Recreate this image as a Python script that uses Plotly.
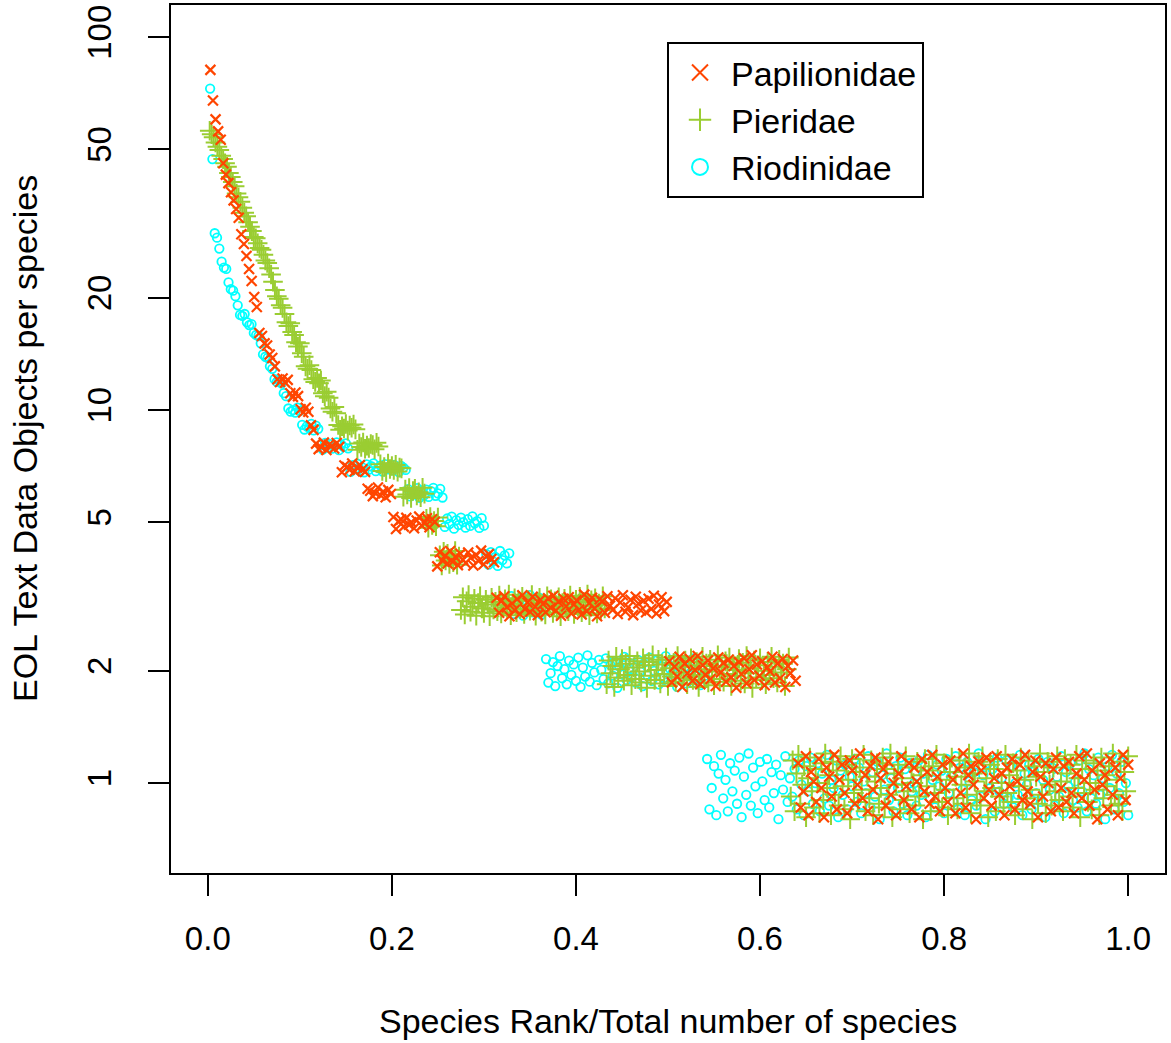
import plotly.graph_objects as go

# Jittered "EOL text data objects per species", species in descending rank order
families = ["Papilionidae", "Pieridae", "Riodinidae"]

pap_y = [
    81.7, 67.6, 60.2, 55.9, 53.1, 45.9, 42.8, 40.6, 38.4, 36.5, 34.6, 32.8, 29.6, 27.9, 25.9, 23.9, 22.2, 20.1, 18.9,
    16.1, 15.8, 15.1, 14.9,
    14.1, 13.8, 13.1,
    12.1, 11.9, 12.15, 11.85, 12.05,
    11.1, 10.85, 11.15, 10.9,
    10.05, 9.85, 10.15, 9.9,
    9.1, 8.85,
    8.13, 7.86, 7.95, 8.18, 7.82, 8.07, 8.01, 7.89, 8.16, 7.97,
    6.81, 7.10, 7.04, 6.92, 7.19, 6.85, 7.02, 7.12, 6.94, 6.83,
    6.15, 6.08, 5.88, 5.99, 6.20, 5.91, 6.05, 5.84, 6.11, 5.96,
    5.17, 4.80, 5.03, 5.09, 4.87, 5.14, 4.93, 5.00, 4.82, 5.06, 5.18, 4.90, 4.98, 5.13, 4.85, 5.10, 5.01,
    3.81, 4.16, 3.95, 4.07, 3.88, 4.19, 3.92, 4.04, 3.84, 4.12, 3.97, 3.89, 4.15, 4.02, 3.83, 4.09, 3.94, 4.20, 3.86, 4.05,
    4.11, 3.99, 3.91,
    3.14, 2.86, 3.08, 3.17, 2.96, 2.80, 3.03, 2.91, 3.11, 2.84, 3.19, 2.93, 3.05, 2.88, 3.16, 2.97, 2.82, 3.10, 3.02, 2.87,
    3.13, 2.95, 3.18, 2.90, 3.06, 2.81, 3.12, 2.98, 3.15, 2.85, 3.01, 3.09, 2.92, 2.83, 3.20, 2.89, 3.04, 3.14, 2.94, 2.80,
    3.11, 3.07, 2.86, 3.17, 2.99, 2.91, 3.13, 2.84, 3.05, 3.19, 2.88, 2.96, 3.10, 2.82, 3.16, 3.03, 2.90, 3.08, 2.87, 3.12,
    2.93, 3.18, 2.85, 3.01, 3.15, 2.89, 3.06,
    2.12, 1.86, 2.05, 1.93, 2.18, 1.81, 2.09, 1.97, 2.15, 1.88, 2.01, 2.19, 1.84, 2.07, 1.95, 2.13, 1.90, 2.03, 1.82, 2.17,
    1.98, 2.10, 1.87, 2.14, 1.92, 2.06, 1.80, 2.11, 1.96, 2.16, 1.85, 2.02, 2.20, 1.89, 2.08, 1.94, 2.12, 1.83, 2.04, 1.99,
    2.18, 1.86, 2.09, 1.91, 2.15, 1.81, 2.06, 1.97, 2.13, 1.88,
    1.13, 0.86, 0.95, 1.18, 0.82, 1.07, 1.01, 0.89, 1.16, 0.97, 0.81, 1.10, 1.04, 0.92, 1.19, 0.85, 1.02, 1.12, 0.94, 0.83,
    1.15, 1.08, 0.88, 0.99, 1.20, 0.91, 1.05, 0.84, 1.11, 0.96, 1.17, 0.80, 1.03, 1.09, 0.87, 1.14, 0.93, 1.00, 0.82, 1.06,
    1.18, 0.90, 0.98, 1.13, 0.85, 1.10, 1.01, 0.81, 1.16, 0.95, 1.07, 0.88, 1.19, 0.92, 1.04, 0.84, 1.12, 0.97, 0.89, 1.15,
    1.02, 0.83, 1.09, 0.94, 1.20, 0.86, 1.05, 1.11, 0.99, 0.80, 1.14, 1.08, 0.91, 1.17, 0.96, 0.87, 1.03, 1.18, 0.93, 1.06,
    0.82, 1.10, 0.98, 1.16, 0.85, 1.01, 1.12, 0.90, 1.19, 0.95, 0.88, 1.07, 1.15, 0.81, 1.04, 0.92, 1.13, 1.00, 0.84, 1.09,
    1.17, 0.86, 0.97, 1.11, 0.89, 1.14, 0.94, 0.83, 1.06, 1.18, 0.91, 1.02, 1.20, 0.87, 1.08, 0.96, 0.80, 1.13, 0.99, 1.05,
    0.85, 1.16, 0.93, 1.10, 0.82, 1.03, 1.19, 0.90, 1.12,
]

pie_y = [
    56.1, 54.9, 53.9, 52.2, 50.8, 49.8, 48.1, 47.1, 45.9, 44.9, 43.2, 42.2, 40.9, 39.8, 38.1, 37.2, 36.2, 34.9, 33.8, 33.1,
    31.9, 31.0, 30.2, 29.1, 28.9, 28.0, 27.2, 26.9, 26.1, 25.2, 24.8, 24.0, 23.1, 22.1, 21.0, 20.2, 19.9, 19.1, 18.8,
    18.1, 17.2, 16.8, 17.1, 16.2, 15.9, 15.2, 14.8, 15.1, 14.2, 13.9,
    13.1, 12.9, 13.2, 12.8, 12.1, 11.9, 12.2, 11.8, 12.0, 11.1, 10.9, 11.2, 10.8, 10.1, 9.9, 10.2, 9.8,
    9.12, 8.86, 9.05, 8.93, 9.18, 8.81, 9.09, 8.97, 9.15, 8.88,
    7.83, 8.14, 7.96, 8.19, 7.88, 8.03, 7.91, 8.11, 8.06, 7.85, 8.17, 7.99,
    7.16, 6.87, 7.04, 6.82, 7.19, 6.95, 7.08, 6.91, 7.13, 6.84, 7.01, 6.98,
    5.86, 6.12, 5.94, 6.18, 5.81, 6.07, 6.15, 5.90, 6.02, 5.84, 6.19, 5.97,
    5.11, 4.84, 5.17, 4.92, 5.04, 4.88, 5.15,
    4.08, 3.83, 4.17, 3.95, 4.12, 3.87, 4.02, 3.91, 4.19, 3.85, 4.05,
    2.91, 3.15, 2.83, 3.07, 3.19, 2.88, 2.97, 3.12, 2.81, 3.04, 3.17, 2.94, 2.86, 3.10, 3.01, 2.80, 3.14, 2.92, 3.06, 2.89,
    3.18, 2.85, 2.99, 3.11, 2.95, 3.20, 2.82, 3.03, 3.13, 2.87, 3.08, 2.93, 3.16, 2.84, 3.00, 3.09, 2.90, 3.19, 2.96, 2.81,
    3.05, 3.14, 2.88, 3.02, 2.83, 3.17, 2.98, 3.11, 2.86, 3.07, 2.92, 3.15, 2.80, 3.04, 3.12, 2.95, 2.89, 3.18, 3.01, 2.84,
    3.10, 2.97, 3.16, 2.87, 3.06, 2.93, 3.20, 2.82, 3.09, 2.99, 3.13, 2.85, 3.03, 2.91, 3.17, 2.94,
    1.84, 2.13, 1.97, 2.06, 1.81, 2.18, 1.92, 2.02, 2.15, 1.88, 2.09, 1.95, 2.19, 1.83, 2.04, 1.90, 2.12, 1.99, 1.86, 2.16,
    2.07, 1.80, 2.11, 1.94, 2.20, 1.89, 2.01, 2.14, 1.85, 2.08, 1.96, 2.17, 1.82, 2.03, 1.93, 2.10, 1.87, 2.19, 1.98, 2.05,
    1.91, 2.13, 1.84, 2.07, 2.16, 1.89, 1.95, 2.11, 1.81, 2.02, 2.18, 1.93, 2.09, 1.86, 2.14, 1.99, 1.83, 2.06, 2.20, 1.90,
    2.04, 1.87, 2.12, 1.96, 2.17, 1.82, 2.08, 1.94, 2.01, 2.15, 1.88, 2.10, 1.85, 2.19, 1.97, 2.03, 1.80, 2.13, 1.92, 2.07,
    2.16, 1.89, 2.00, 1.84, 2.11, 1.95, 2.18, 1.91, 2.05, 1.86, 2.14, 1.98, 2.09, 1.82, 2.02, 2.17,
    0.92, 1.15, 0.84, 1.06, 1.19, 0.88, 0.99, 1.11, 0.81, 1.03, 1.17, 0.95, 0.86, 1.09, 1.00, 0.83, 1.13, 0.90, 1.20, 0.97,
    1.05, 0.82, 1.14, 0.93, 1.08, 0.87, 1.18, 0.98, 0.85, 1.12, 1.02, 0.80, 1.16, 0.94, 1.07, 0.89, 1.10, 0.96, 1.19, 0.84,
    1.04, 0.91, 1.15, 0.82, 1.01, 1.13, 0.88, 0.97, 1.17, 0.86, 1.09, 0.93, 1.20, 0.81, 1.06, 0.99, 1.12, 0.85, 1.03, 0.90,
    1.18, 0.95, 0.83, 1.10, 1.00, 0.87, 1.14, 0.92, 1.05, 0.80, 1.16, 0.98, 1.08, 0.84, 1.11, 0.94, 1.19, 0.89, 1.02, 0.86,
    1.13, 0.96, 0.82, 1.07, 1.17, 0.91, 1.04, 0.85, 1.15, 0.99, 0.88, 1.10, 0.93, 1.20, 0.83, 1.06, 1.01, 0.90, 1.14, 0.87,
    1.18, 0.95, 1.03, 0.81, 1.12, 0.97, 1.09, 0.84, 1.16, 0.92, 1.00, 0.86, 1.19, 0.94, 1.05, 0.89, 1.13, 0.82, 1.08, 0.98,
    1.17, 0.85, 1.02, 0.91, 1.15, 0.96, 0.80, 1.11, 1.04, 0.88, 1.20, 0.93, 1.07, 0.83, 1.14, 0.99, 0.87, 1.10, 0.95, 1.18,
    0.90, 1.01, 0.84, 1.16, 1.06, 0.92, 1.12, 0.86, 0.97, 1.19, 1.03, 0.81, 1.09, 0.94, 1.15, 0.89, 1.00, 0.85, 1.13, 0.96,
    1.08, 0.82, 1.17, 0.91, 1.05, 0.98, 1.11, 0.87, 1.20, 0.93, 1.02, 0.88, 1.14, 0.84, 1.07, 0.95, 1.18,
]

rio_y = [
    72.8, 47.1, 29.8, 29.0, 27.1, 25.0, 24.1, 23.9, 22.0, 21.1, 20.9, 20.2,
    19.1, 18.0, 17.9, 18.1, 17.2, 16.9, 17.0, 16.1, 15.9, 15.8, 15.1,
    14.1, 13.9, 13.8, 13.1, 12.9,
    12.1, 11.9, 12.0, 11.8,
    11.1, 10.9,
    10.1, 9.9, 10.0, 9.85, 10.15, 9.95,
    9.13, 8.87, 9.04, 8.96, 9.18, 8.82, 9.09, 8.91,
    8.06, 7.84, 8.17, 7.93, 8.11, 7.88, 8.01, 8.19, 7.81, 8.09, 7.97, 8.14, 7.90,
    6.83, 7.12, 6.95, 7.18, 6.88, 7.03, 6.81, 7.15, 6.92, 7.07, 7.20, 6.86, 6.99, 7.10, 6.84, 7.16, 6.94, 7.05, 6.89, 7.13,
    6.97, 6.82, 7.09, 7.01, 6.91,
    6.14, 5.87, 6.03, 5.95, 6.18, 5.82, 6.09, 5.91, 6.12, 5.85, 6.06, 6.19, 5.89, 5.98, 6.15, 5.83,
    4.86, 5.12, 4.95, 5.18, 4.81, 5.07, 4.92, 5.15, 5.01, 4.84, 5.10, 4.89, 5.19, 4.97, 5.04, 4.83, 5.13, 4.90,
    4.11, 3.85, 4.16, 3.93, 4.04, 3.82, 4.19, 3.96, 4.08, 3.88, 4.13,
    3.17, 2.84, 3.05, 2.93, 3.12, 2.81, 3.09, 2.96, 3.19, 2.87, 3.02, 2.90, 3.14, 2.83, 3.07,
    2.15, 1.86, 1.97, 2.11, 1.82, 2.06, 2.19, 1.91, 2.02, 1.84, 2.13, 1.95, 2.08, 1.88, 2.17, 1.81, 2.04, 1.93, 2.20, 1.87,
    2.10, 1.98, 1.83, 2.14, 2.01, 1.90, 2.16, 1.85, 2.07, 1.94, 2.12, 1.80, 2.05, 1.96, 2.18, 1.89, 2.03, 1.92, 2.09, 1.86,
    2.14, 1.99, 1.82, 2.11, 1.95, 2.17, 1.88, 2.00, 2.13, 1.84, 2.06, 1.91, 2.19, 1.87, 2.02, 1.97, 2.15, 1.81, 2.08, 1.93,
    2.12, 1.85, 2.04, 1.98, 2.16, 1.89, 2.10, 1.83, 2.01, 1.94,
    1.16, 0.85, 0.97, 1.11, 0.82, 1.06, 1.19, 0.91, 1.02, 0.84, 1.13, 0.95, 1.08, 0.88, 1.17, 0.81, 1.04, 0.93, 1.20, 0.87,
    1.10, 0.98, 0.83, 1.14, 1.01, 0.90, 1.16, 0.86, 1.07, 0.94, 1.12, 0.80, 1.05, 0.96, 1.18, 0.89, 1.03, 0.92, 1.09, 0.85,
    1.15, 0.99, 0.82, 1.11, 0.95, 1.17, 0.88, 1.00, 1.13, 0.84, 1.06, 0.91, 1.19, 0.87, 1.02, 0.97, 1.15, 0.81, 1.08, 0.93,
    1.12, 0.85, 1.04, 0.98, 1.16, 0.89, 1.10, 0.83, 1.01, 0.94, 1.18, 0.86, 1.07, 0.92, 1.14, 0.80, 1.05, 0.96, 1.20, 0.90,
    1.03, 0.84, 1.11, 0.97, 1.17, 0.88, 1.09, 0.82, 1.13, 0.95, 1.00, 0.87, 1.15, 0.93, 1.06, 0.81, 1.19, 0.91, 1.02, 0.86,
    1.12, 0.98, 1.08, 0.83, 1.16, 0.94, 1.04, 0.89, 1.18, 0.85, 1.10, 0.96, 0.82, 1.14, 1.01, 0.90, 1.07, 0.87, 1.20, 0.92,
    1.05, 0.80, 1.13, 0.97, 1.09, 0.84, 1.17, 0.95, 1.03, 0.88, 1.15, 0.91, 1.11, 0.86, 1.00, 0.93, 1.19, 0.82, 1.06, 0.99,
    1.12, 0.85, 1.08, 0.94, 1.16, 0.89, 1.02, 0.81, 1.14, 0.96, 1.10, 0.87, 1.04, 0.92, 1.18, 0.83, 1.07, 0.98, 1.13, 0.90,
    1.01, 0.86, 1.15, 0.95, 1.20, 0.84, 1.09, 0.91, 1.05, 0.88, 1.17, 0.93, 1.03, 0.80, 1.11, 0.97, 1.19, 0.85, 1.06, 0.94,
    1.14, 0.89, 1.00, 0.82,
]

x_ticks = [0.0, 0.2, 0.4, 0.6, 0.8, 1.0]
x_tick_labels = ["0.0", "0.2", "0.4", "0.6", "0.8", "1.0"]
y_ticks = [1, 2, 5, 10, 20, 50, 100]
y_tick_labels = ["1", "2", "5", "10", "20", "50", "100"]

x_title = "Species Rank/Total number of species"
y_title = "EOL Text Data Objects per species"

FONT = "Liberation Sans, Arial, Helvetica, sans-serif"
colors = {"Papilionidae": "#FF4500", "Pieridae": "#9ACD32", "Riodinidae": "#00FFFF"}
symbols = {"Papilionidae": "x-thin-open", "Pieridae": "cross-thin-open", "Riodinidae": "circle-open"}
sizes = {"Papilionidae": 10, "Pieridae": 14, "Riodinidae": 8.5}
widths = {"Papilionidae": 2.2, "Pieridae": 2, "Riodinidae": 1.8}
legend_sizes = {"Papilionidae": 16, "Pieridae": 16, "Riodinidae": 16}

data = {"Papilionidae": pap_y, "Pieridae": pie_y, "Riodinidae": rio_y}


def rank_fraction(values):
    n = len(values)
    return [(i + 1) / n for i in range(n)]


fig = go.Figure()

# drawing order: Riodinidae first, Papilionidae on top
for fam in ["Riodinidae", "Pieridae", "Papilionidae"]:
    ys = data[fam]
    fig.add_trace(go.Scatter(
        x=rank_fraction(ys), y=ys, mode="markers", name=fam, showlegend=False,
        marker=dict(symbol=symbols[fam], size=sizes[fam], color=colors[fam],
                    line=dict(color=colors[fam], width=widths[fam])),
        hoverinfo="skip",
    ))

for fam in families:
    fig.add_trace(go.Scatter(
        x=[None], y=[None], mode="markers", name=fam, showlegend=True,
        marker=dict(symbol=symbols[fam], size=legend_sizes[fam], color=colors[fam],
                    line=dict(color=colors[fam], width=2)),
    ))

fig.update_layout(
    width=1171, height=1043,
    margin=dict(l=171, r=6, t=3, b=170),
    paper_bgcolor="white", plot_bgcolor="white",
    font=dict(family=FONT, size=33, color="black"),
    showlegend=True,
    legend=dict(
        x=(667 - 171) / 994, y=1 - (40 - 3) / 870, xanchor="left", yanchor="top",
        bordercolor="black", borderwidth=2, bgcolor="white",
        font=dict(family=FONT, size=34, color="black"),
        itemwidth=52, traceorder="normal",
    ),
    xaxis=dict(
        range=[-0.04, 1.04], tickvals=x_ticks, ticktext=x_tick_labels,
        ticks="outside", ticklen=21, tickwidth=2, tickcolor="black",
        showline=True, mirror=True, linecolor="black", linewidth=2,
        showgrid=False, zeroline=False, ticklabelstandoff=14,
        tickfont=dict(family=FONT, size=33),
    ),
    yaxis=dict(
        type="log", range=[-0.2412, 2.0862], tickvals=y_ticks, ticktext=y_tick_labels,
        ticks="outside", ticklen=21, tickwidth=2, tickcolor="black", tickangle=-90,
        showline=True, mirror=True, linecolor="black", linewidth=2,
        showgrid=False, zeroline=False, ticklabelstandoff=24,
        tickfont=dict(family=FONT, size=33),
    ),
    annotations=[
        dict(text=x_title, xref="paper", yref="paper", x=0.5, y=(873 - 1021) / 870,
             xanchor="center", yanchor="middle", showarrow=False,
             font=dict(family=FONT, size=34, color="black")),
        dict(text=y_title, xref="paper", yref="paper", x=(25 - 171) / 994, y=0.5,
             xanchor="center", yanchor="middle", textangle=-90, showarrow=False,
             font=dict(family=FONT, size=34, color="black")),
    ],
)

fig.write_html("out.html", config={"displayModeBar": False},
               post_script="document.body.style.margin='0px';")
